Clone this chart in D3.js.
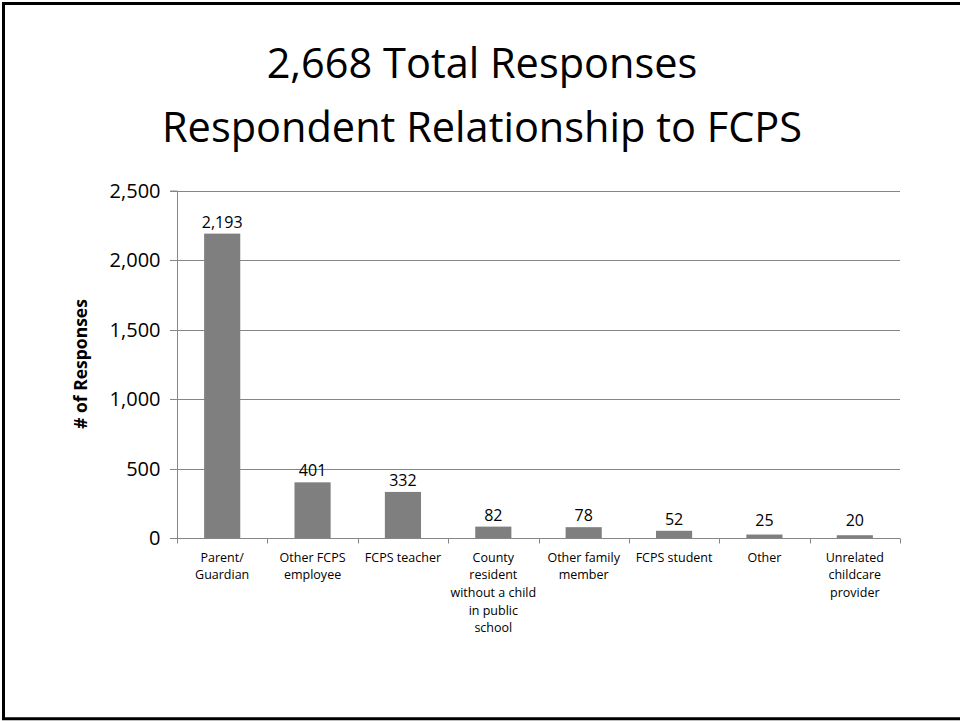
<!DOCTYPE html>
<html>
<head>
<meta charset="utf-8">
<script src="https://cdn.jsdelivr.net/npm/d3@7"></script>
<style>
  html, body { margin: 0; padding: 0; background: #fff; }
  svg { display: block; }
  text { font-family: "Open Sans", "Noto Sans", sans-serif; fill: #000; }
</style>
</head>
<body>
<svg id="chart" width="960" height="721"></svg>
<script>
const titleLines = ["2,668 Total Responses", "Respondent Relationship to FCPS"];
const yAxisTitle = "# of Responses";
const categories = [
  "Parent/\nGuardian",
  "Other FCPS\nemployee",
  "FCPS teacher",
  "County\nresident\nwithout a child\nin public\nschool",
  "Other family\nmember",
  "FCPS student",
  "Other",
  "Unrelated\nchildcare\nprovider"
];
const values = [2193, 401, 332, 82, 78, 52, 25, 20];
const yTicks = [0, 500, 1000, 1500, 2000, 2500];

const svg = d3.select("#chart");

// slide border
svg.append("path")
  .attr("d", "M961,3.5 H3.5 V718.8 H961")
  .attr("fill", "none").attr("stroke", "#000").attr("stroke-width", 3);

// title
svg.append("g").selectAll("text").data(titleLines).join("text")
  .attr("x", 482).attr("y", (d, i) => 77.5 + i * 64)
  .attr("text-anchor", "middle")
  .style("font-size", "41.5px")
  .text(d => d);

const pLeft = 177, pRight = 900, pTop = 191, pBottom = 538;
const x = d3.scaleBand().domain(categories).range([pLeft, pRight]).paddingInner(0.6).paddingOuter(0.3);
const y = d3.scaleLinear().domain([0, 2500]).range([pBottom, pTop]);
const fmt = d3.format(",");
const gridColor = "#868686";

// gridlines
svg.append("g").selectAll("line").data(yTicks.filter(t => t > 0)).join("line")
  .attr("x1", pLeft - 7).attr("x2", pRight)
  .attr("y1", d => Math.round(y(d)) + 0.5).attr("y2", d => Math.round(y(d)) + 0.5)
  .attr("stroke", gridColor).attr("stroke-width", 1);

// y axis
const yAxis = svg.append("g")
  .attr("transform", `translate(${pLeft + 0.5},0)`)
  .call(d3.axisLeft(y).tickValues(yTicks).tickFormat(fmt).tickSize(7).tickPadding(10));
yAxis.select(".domain").attr("stroke", gridColor).attr("d", `M-7,${pTop}H0V${pBottom}`);
yAxis.selectAll(".tick line").attr("stroke", gridColor);
yAxis.selectAll(".tick text").style("font-size", "20px").style("font-family", "'Open Sans', sans-serif").attr("fill", "#000");
yAxis.selectAll(".tick").attr("transform", d => `translate(0,${Math.round(y(d)) + 0.5})`);

// bars
svg.append("g").selectAll("rect").data(values).join("rect")
  .attr("x", (d, i) => x(categories[i]))
  .attr("width", x.bandwidth())
  .attr("y", d => y(d))
  .attr("height", d => pBottom - y(d))
  .attr("fill", "#7f7f7f");

// x axis
const xg = svg.append("g").attr("transform", `translate(0,${pBottom + 0.5})`);
xg.append("line").attr("x1", pLeft - 7).attr("x2", pRight).attr("y1", 0).attr("y2", 0)
  .attr("stroke", gridColor);
const step = x.step();
xg.selectAll("line.tk").data(d3.range(categories.length + 1)).join("line")
  .attr("class", "tk")
  .attr("x1", i => Math.round(pLeft + i * step) + 0.5).attr("x2", i => Math.round(pLeft + i * step) + 0.5)
  .attr("y1", 0).attr("y2", 5)
  .attr("stroke", gridColor);

// category labels
const catG = svg.append("g");
categories.forEach((c, i) => {
  const cx = x(c) + x.bandwidth() / 2;
  const t = catG.append("text")
    .attr("text-anchor", "middle")
    .style("font-size", "12.5px");
  c.split("\n").forEach((line, j) => {
    t.append("tspan").attr("x", cx).attr("y", 561.5 + j * 17.7).text(line);
  });
});

// data labels
svg.append("g").selectAll("text").data(values).join("text")
  .attr("x", (d, i) => x(categories[i]) + x.bandwidth() / 2)
  .attr("y", d => Math.min(y(d) - 6, 526))
  .attr("text-anchor", "middle")
  .style("font-size", "16px")
  .text(d => fmt(d));

// y axis title
svg.append("text")
  .attr("transform", "translate(86.5,364) rotate(-90)")
  .attr("text-anchor", "middle")
  .style("font-size", "17.5px").style("font-weight", "bold")
  .text(yAxisTitle);
</script>
</body>
</html>
